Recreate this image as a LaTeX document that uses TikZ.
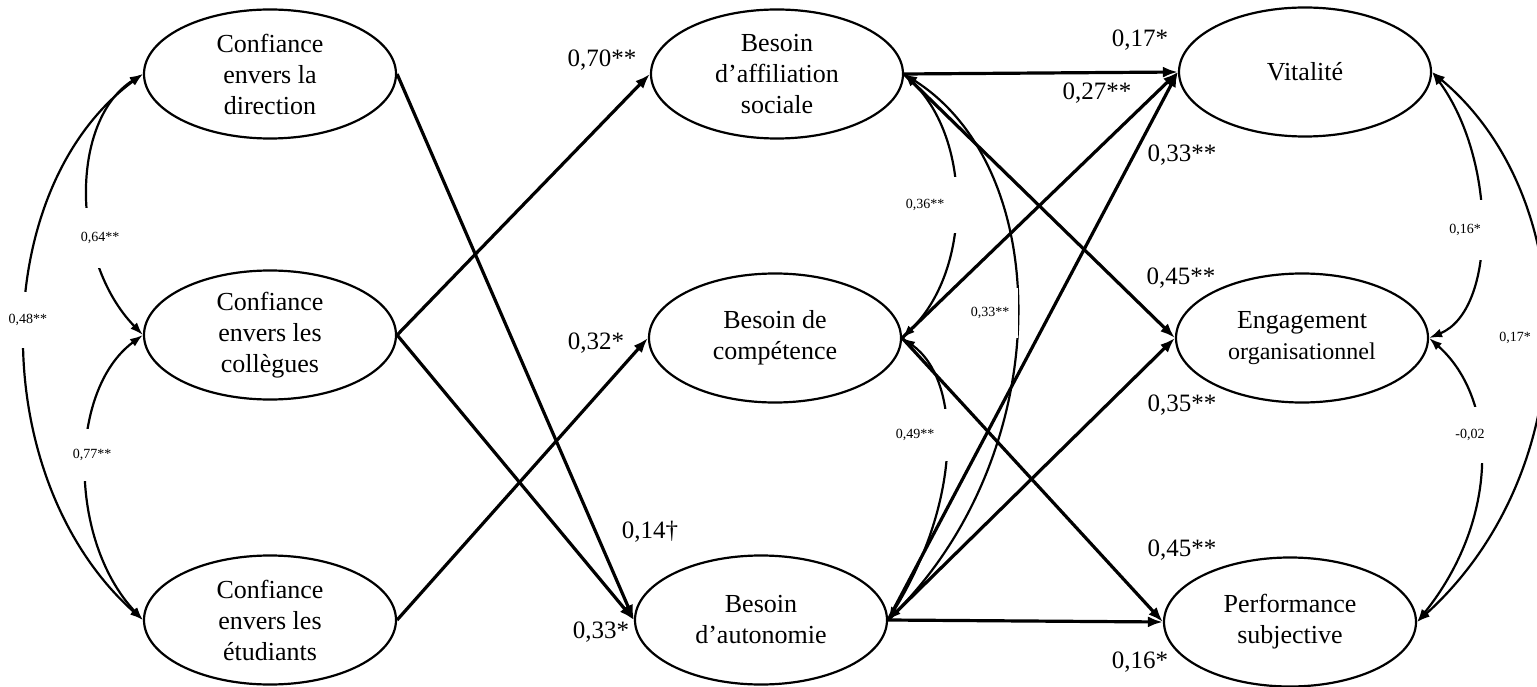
\documentclass[tikz,border=0pt]{standalone}
\usepackage{fontspec}
\setmainfont{Liberation Serif}
\usetikzlibrary{arrows.meta,shapes.geometric}
\begin{document}
\begin{tikzpicture}[x=1pt,y=-1pt,
  ell/.style={draw, line width=2.2pt, ellipse, minimum width=252pt, minimum height=129pt, inner sep=0pt, align=center, font=\fontsize{26}{31}\selectfont},
  arr/.style={line width=3.2pt, -{Latex[length=15pt,width=11pt]}},
  covarc/.style={line width=2.2pt, {Latex[length=13pt,width=9pt]}-{Latex[length=13pt,width=9pt]}},
  coef/.style={font=\fontsize{25}{30}\selectfont, inner sep=1pt},
  scoef/.style={font=\fontsize{14}{16}\selectfont, fill=white, inner sep=0pt}
]
\useasboundingbox (0,0) rectangle (1537,687);

% ellipses
\node[ell] (dir)  at (270,74)  {Confiance\\envers la\\direction};
\node[ell] (col)  at (270,335) {Confiance\\envers les\\collègues};
\node[ell] (etu)  at (270,620) {Confiance\\envers les\\étudiants};
\node[ell] (aff)  at (777,74)  {Besoin\\d’affiliation\\sociale};
\node[ell] (comp) at (775,338) {Besoin de\\compétence};
\node[ell] (aut)  at (761,620) {Besoin\\d’autonomie};
\node[ell] (vit)  at (1305,72) {Vitalité};
\node[ell] (eng)  at (1302,338) {Engagement\\{\fontsize{24}{28}\selectfont organisationnel}};
\node[ell] (perf) at (1290,622) {Performance\\subjective};

% structural paths
\draw[arr] (dir.east) -- (aut.west);
\draw[arr] (col.east) -- (aff.west);
\draw[arr] (col.east) -- (aut.west);
\draw[arr] (etu.east) -- (comp.west);
\draw[arr] (aff.east) -- (vit.west);
\draw[arr] (aff.east) -- (eng.west);
\draw[arr] (comp.east) -- (vit.west);
\draw[arr] (comp.east) -- (perf.west);
\draw[arr] (aut.east) -- (vit.west);
\draw[arr] (aut.east) -- (eng.west);
\draw[arr] (aut.east) -- (perf.west);

% covariances
\draw[covarc] (dir.west) .. controls (70,120) and (70,260) .. (col.west);
\draw[covarc] (dir.west) .. controls (-14,190) and (-14,480) .. (etu.west);
\draw[covarc] (col.west) .. controls (68,390) and (68,540) .. (etu.west);
\draw[covarc] (aff.east) .. controls (972,140) and (972,270) .. (comp.east);
\draw[covarc] (aff.east) .. controls (1056,170) and (1056,450) .. (aut.east);
\draw[covarc] (comp.east) .. controls (962,380) and (962,500) .. (aut.east);
\draw[covarc] (vit.east) .. controls (1497,160) and (1497,310) .. (eng.east);
\draw[covarc] (eng.east) .. controls (1499,400) and (1499,520) .. (perf.east);
\draw[covarc] (vit.east) .. controls (1585,200) and (1585,470) .. (perf.east);

% covariance labels
\node[scoef, minimum width=46pt, minimum height=60pt] (c1) at (100,238) {0,64**};
\node[scoef, minimum width=46pt, minimum height=56pt] (c2) at (28,320) {0,48**};
\node[scoef, minimum width=46pt, minimum height=52pt] (c3) at (92,455) {0,77**};
\node[scoef, minimum width=70pt, minimum height=56pt] (c4) at (925,205) {0,36**};
\node[scoef, minimum width=56pt, minimum height=50pt] (c5) at (990,313) {0,33**};
\node[scoef, minimum width=68pt, minimum height=52pt] (c6) at (915,435) {0,49**};
\node[scoef, minimum width=42pt, minimum height=60pt] (c7) at (1465,230) {0,16*};
\node[scoef, minimum width=46pt, minimum height=56pt] (c8) at (1470,435) {-0,02};
\node[scoef] (c9) at (1515,338) {0,17*};

% path coefficients
\node[coef] (p1)  at (602,60)   {0,70**};
\node[coef] (p2)  at (596,343)  {0,32*};
\node[coef] (p3)  at (650,532)  {0,14†};
\node[coef] (p4)  at (601,632)  {0,33*};
\node[coef] (p5)  at (1140,40)  {0,17*};
\node[coef] (p6)  at (1097,93)  {0,27**};
\node[coef] (p7)  at (1182,155) {0,33**};
\node[coef] (p8)  at (1181,278) {0,45**};
\node[coef] (p9)  at (1182,405) {0,35**};
\node[coef] (p10) at (1182,550) {0,45**};
\node[coef] (p11) at (1140,662) {0,16*};
\end{tikzpicture}
\end{document}
